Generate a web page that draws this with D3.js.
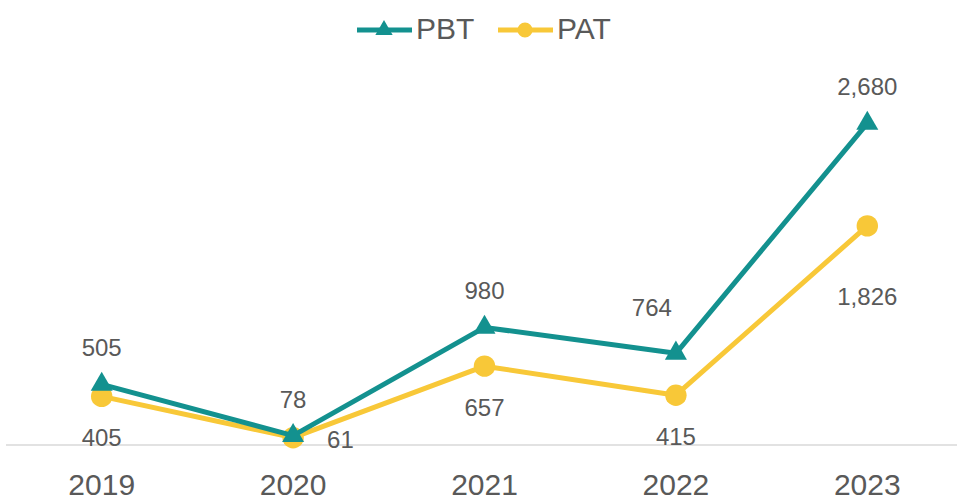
<!DOCTYPE html>
<html>
<head>
<meta charset="utf-8">
<script src="https://cdn.jsdelivr.net/npm/d3@7"></script>
<style>
  html, body { margin: 0; padding: 0; background: #fff; }
  svg { display: block; font-family: "Liberation Sans", Arial, sans-serif; }
</style>
</head>
<body>
<svg id="chart" width="961" height="500"></svg>
<script>
// Yearly profit figures
const years = ["2019", "2020", "2021", "2022", "2023"];
const pbt = [505, 78, 980, 764, 2680];
const pat = [405, 61, 657, 415, 1826];
// Where each value label sits relative to its point
const pbtLabelPos = ["above", "above", "above", "aboveLeft", "above"];
const patLabelPos = ["below", "right", "below", "below", "farBelow"];

const svg = d3.select("#chart");

const x = d3.scaleBand().domain(years).range([6, 963]);
const y = d3.scaleLinear().domain([0, 3000]).range([445, 85]);
const cx = d => x(d) + x.bandwidth() / 2;

const teal = "#13918f";
const gold = "#f8c838";
const textCol = "#595959";

// baseline axis
svg.append("line")
  .attr("x1", 6).attr("x2", 957)
  .attr("y1", y(0)).attr("y2", y(0))
  .attr("stroke", "#d9d9d9").attr("stroke-width", 1.5);

// category labels
const xAxis = svg.append("g").attr("transform", `translate(0,${y(0)})`)
  .call(d3.axisBottom(x).tickSize(0).tickPadding(0));
xAxis.select(".domain").remove();
xAxis.selectAll("text")
  .attr("font-size", 30).attr("fill", textCol)
  .attr("font-family", "Liberation Sans, Arial, sans-serif")
  .attr("dy", null)
  .attr("y", 50);

const line = d3.line().x((d, i) => cx(years[i])).y(d => y(d));

// label offsets per placement keyword
const place = {
  above:     { dx: 0,   dy: -28, anchor: "middle" },
  aboveLeft: { dx: -4,  dy: -37, anchor: "end" },
  below:     { dx: 0,   dy: 50,  anchor: "middle" },
  farBelow:  { dx: 0,   dy: 79,  anchor: "middle" },
  right:     { dx: 34,  dy: 10,  anchor: "start" }
};

function series(values, color, marker, labelPos) {
  const g = svg.append("g");
  g.append("path").datum(values)
    .attr("d", line).attr("fill", "none")
    .attr("stroke", color).attr("stroke-width", 5)
    .attr("stroke-linejoin", "round");
  g.selectAll("path.m").data(values).join("path").attr("class", "m")
    .attr("d", d3.symbol().type(marker).size(marker === d3.symbolTriangle ? 210 : 360))
    .attr("transform", (d, i) => `translate(${cx(years[i])},${y(d)})`)
    .attr("fill", color);
  g.selectAll("text").data(values).join("text")
    .attr("x", (d, i) => cx(years[i]) + place[labelPos[i]].dx)
    .attr("y", (d, i) => y(d) + place[labelPos[i]].dy)
    .attr("text-anchor", (d, i) => place[labelPos[i]].anchor)
    .attr("font-size", 24).attr("fill", textCol)
    .text(d => d3.format(",")(d));
}

series(pat, gold, d3.symbolCircle, patLabelPos);
series(pbt, teal, d3.symbolTriangle, pbtLabelPos);

// legend
const legend = [
  { name: "PBT", color: teal, marker: d3.symbolTriangle, x: 357 },
  { name: "PAT", color: gold, marker: d3.symbolCircle, x: 498 }
];
const lg = svg.append("g");
legend.forEach(l => {
  lg.append("line").attr("x1", l.x).attr("x2", l.x + 55)
    .attr("y1", 30).attr("y2", 30)
    .attr("stroke", l.color).attr("stroke-width", 5);
  lg.append("path")
    .attr("d", d3.symbol().type(l.marker).size(l.marker === d3.symbolTriangle ? 130 : 180))
    .attr("transform", `translate(${l.x + 27},30)`)
    .attr("fill", l.color);
  lg.append("text").attr("x", l.x + 59).attr("y", 39)
    .attr("font-size", 30).attr("fill", textCol)
    .text(l.name);
});
</script>
</body>
</html>
